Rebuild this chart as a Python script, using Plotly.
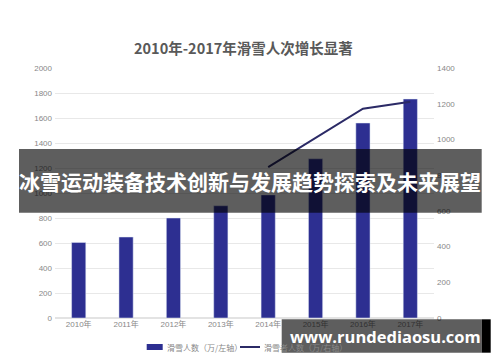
import plotly.graph_objects as go

# ---- data ----
years = ['2010年', '2011年', '2012年', '2013年', '2014年', '2015年', '2016年', '2017年']
ski_people = [605, 648, 800, 898, 985, 1274, 1560, 1752]          # 左轴
skier_count = [None, None, None, None, 845, 1010, 1172, 1211]     # 右轴
left_ticks = [0, 200, 400, 600, 800, 1000, 1200, 1400, 1600, 1800, 2000]
right_ticks = [0, 200, 400, 600, 800, 1000, 1200, 1400]
title_text = '2010年-2017年滑雪人次增长显著'
bar_name = '滑雪人数（万/左轴）'
line_name = '滑雪者人数（万/右轴）'
banner_text = '冰雪运动装备技术创新与发展趋势探索及未来展望'
watermark_text = 'www.rundediaosu.com'

BAR_C = '#2d2f91'
LINE_C = '#2b2a66'
CJK = 'Noto Sans CJK SC'

W, H = 500, 362
L, R, T, B = 55, 66, 68, 44
PW, PH = W - L - R, H - T - B


def px(x):
    return (x - L) / PW


def py(y):
    return (H - B - y) / PH


fig = go.Figure()
fig.add_trace(go.Bar(x=years, y=ski_people, name=bar_name, marker_color=BAR_C,
                     showlegend=False))
fig.add_trace(go.Scatter(x=years, y=skier_count, name=line_name, mode='lines',
                         line=dict(color=LINE_C, width=2), yaxis='y2',
                         connectgaps=False, showlegend=False))

fig.update_layout(
    width=W, height=H,
    margin=dict(l=L, r=R, t=T, b=B),
    paper_bgcolor='white', plot_bgcolor='white',
    bargap=0.7,
    font=dict(family=CJK, color='#888888', size=8),
    xaxis=dict(type='category', showgrid=False, showline=False, ticks='',
               tickfont=dict(family='Liberation Sans, ' + CJK, size=8, color='#888888')),
    yaxis=dict(range=[0, 2000], tickvals=left_ticks, showgrid=True, gridcolor='#e8e8e8',
               gridwidth=1, zeroline=True, zerolinecolor='#e3e3e3', showline=False,
               ticks='', ticklabelstandoff=2,
               tickfont=dict(family='Liberation Sans', size=8, color='#888888')),
    yaxis2=dict(range=[0, 1400], tickvals=right_ticks, overlaying='y', side='right',
                showgrid=False, zeroline=False, showline=False, ticks='',
                ticklabelstandoff=2,
                tickfont=dict(family='Liberation Sans', size=8, color='#888888')),
    showlegend=False,
)

annotations = [
    dict(text='<b>' + title_text + '</b>', x=px(243.5), y=py(48), xref='paper', yref='paper',
         showarrow=False, xanchor='center', yanchor='middle',
         font=dict(family=CJK, size=14.5, color='#595959')),
    # custom legend text
    dict(text=bar_name, x=px(165), y=py(347), xref='paper', yref='paper', showarrow=False,
         xanchor='left', yanchor='middle', font=dict(family=CJK, size=8, color='#888888')),
    dict(text=line_name, x=px(262), y=py(347), xref='paper', yref='paper', showarrow=False,
         xanchor='left', yanchor='middle', font=dict(family=CJK, size=8, color='#888888')),
    # banner text
    dict(text='<b>' + banner_text + '</b>', x=px(250.3), y=py(181), xref='paper', yref='paper',
         showarrow=False, xanchor='center', yanchor='middle',
         font=dict(family=CJK, size=21, color='white')),
    # watermark text
    dict(text='<b>' + watermark_text + '</b>', x=px(385.5), y=py(336), xref='paper', yref='paper',
         showarrow=False, xanchor='center', yanchor='middle',
         font=dict(family='Open Sans', size=16.5, color='white')),
]

shapes = [
    # legend swatches
    dict(type='rect', xref='paper', yref='paper', x0=px(146.7), x1=px(162.7),
         y0=py(350), y1=py(344), fillcolor=BAR_C, line=dict(width=0), layer='above'),
    dict(type='line', xref='paper', yref='paper', x0=px(240), x1=px(260),
         y0=py(347), y1=py(347), line=dict(color=LINE_C, width=2), layer='above'),
    # banner overlay
    dict(type='rect', xref='paper', yref='paper', x0=px(19), x1=px(481.7),
         y0=py(212.7), y1=py(149), fillcolor='rgba(0,0,0,0.63)', line=dict(width=0),
         layer='above'),
    # watermark box
    dict(type='rect', xref='paper', yref='paper', x0=px(281.7), x1=px(481.7),
         y0=py(352.7), y1=py(319.3), fillcolor='rgba(0,0,0,0.63)', line=dict(width=0),
         layer='above'),
    dict(type='rect', xref='paper', yref='paper', x0=px(481.7), x1=px(490.7),
         y0=py(352.7), y1=py(319.3), fillcolor='black', line=dict(width=0),
         layer='above'),
]

fig.update_layout(annotations=annotations, shapes=shapes)
fig.write_html('out.html', config={'displayModeBar': False},
               post_script="document.body.style.margin='0';document.body.style.padding='0';")
